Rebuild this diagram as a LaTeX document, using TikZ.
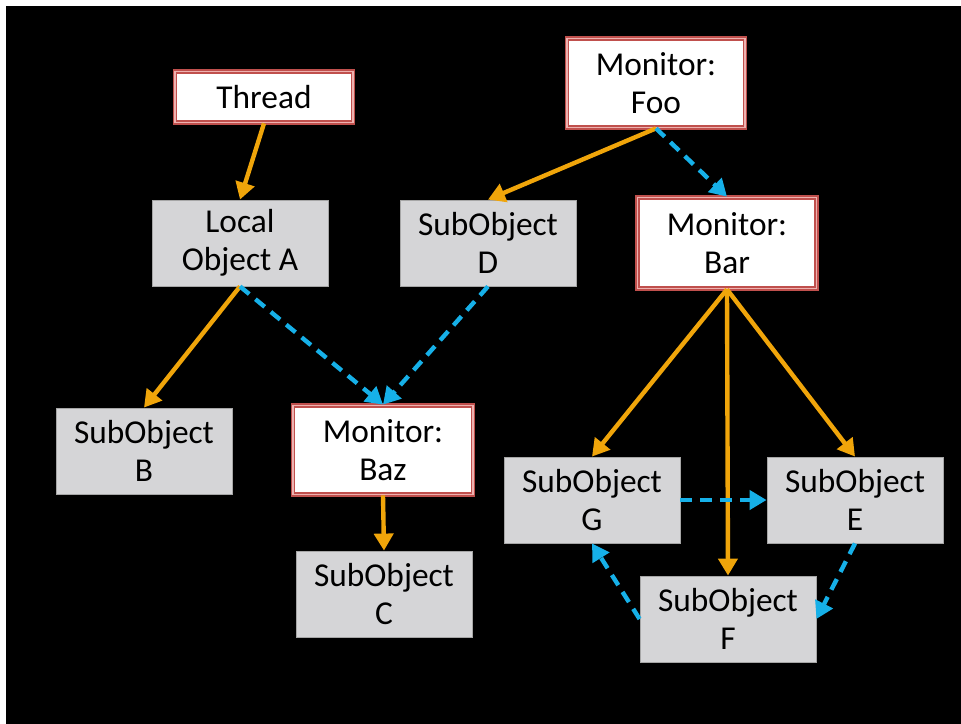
\documentclass[tikz,border=0pt]{standalone}
\usepackage{fontspec}
\setmainfont{Carlito}
\usetikzlibrary{arrows.meta}

\definecolor{ownorange}{RGB}{240,165,10}
\definecolor{refblue}{RGB}{22,176,232}
\definecolor{monred}{RGB}{192,80,77}
\definecolor{monpink}{RGB}{238,178,176}
\definecolor{objgray}{RGB}{213,213,215}

\begin{document}
\begin{tikzpicture}[x=0.02cm,y=-0.02cm,>={Triangle[length=0.34cm,width=0.38cm]},line width=2.5pt]
\tikzset{monitor/.style = {shape=rectangle, draw=monred, double=monpink, double distance=0.6pt, line width=1pt, fill=white, minimum width=3.56cm, minimum height=1.78cm, align=center, font=\fontsize{19}{21.6}\selectfont}}
\tikzset{obj/.style = {shape=rectangle, draw=gray!70, line width=0.5pt, fill=objgray, minimum width=3.52cm, minimum height=1.72cm, align=center, font=\fontsize{19}{21.6}\selectfont}}
\tikzset{owns/.style = {->, draw=ownorange, line width=2.5pt}}
\tikzset{refs/.style = {->, draw=refblue, line width=2.5pt, dash pattern=on 0.24cm off 0.16cm}}

%background
\fill[white] (0,0) rectangle (961,724);
\fill[black] (6,6) rectangle (961,724);

%monitors
\node[monitor, minimum height=1.02cm] (thread) at (264,97) {Thread};
\node[monitor] (foo) at (656,83) {Monitor:\\Foo};
\node[monitor, minimum width=3.58cm, minimum height=1.82cm] (bar) at (727,243) {Monitor:\\Bar};
\node[monitor, minimum width=3.6cm] (baz) at (383,450) {Monitor:\\Baz};

%objects
\node[obj] (loca) at (240,243) {Local\\Object A};
\node[obj] (subd) at (488,243) {SubObject\\D};
\node[obj] (subb) at (144,451) {SubObject\\B};
\node[obj] (subc) at (384,594) {SubObject\\C};
\node[obj] (subg) at (592,500) {SubObject\\G};
\node[obj] (sube) at (855,500) {SubObject\\E};
\node[obj] (subf) at (728,619) {SubObject\\F};

%ownership
\draw[owns] (thread.south) -- (loca.north);
\draw[owns] (foo.south) -- (subd.north);
\draw[owns] (loca.south) -- (subb.north);
\draw[owns] (baz.south) -- (subc.north);
\draw[owns] (bar.south) -- (subg.north);
\draw[owns] (bar.south) -- (subf.north);
\draw[owns] (bar.south) -- (sube.north);

%references
\draw[refs] (foo.south) -- (bar.north);
\draw[refs] (loca.south) -- (baz.north);
\draw[refs] (subd.south) -- (baz.north);
\draw[refs] (subg.east) -- (sube.west);
\draw[refs] (sube.south) -- (subf.east);
\draw[refs] (subf.west) -- (subg.south);

\end{tikzpicture}
\end{document}
